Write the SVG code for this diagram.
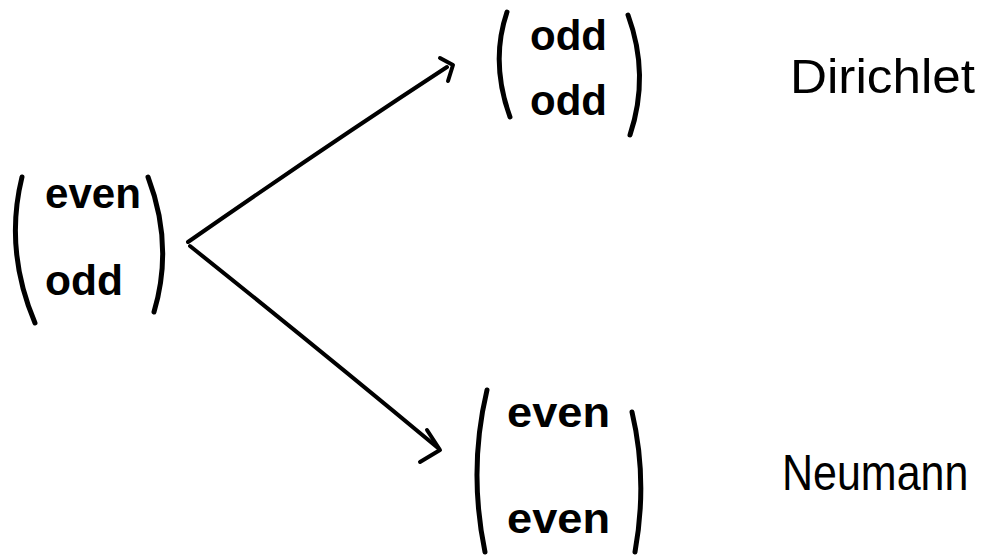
<svg xmlns="http://www.w3.org/2000/svg" width="986" height="555" viewBox="0 0 986 555">
<style>
.p{fill:none;stroke:#000;stroke-width:5;stroke-linecap:round;stroke-linejoin:round}
.c{fill:none;stroke:#000;stroke-width:4;stroke-linecap:round;stroke-linejoin:round}
.t{font-family:"Liberation Sans",Arial,sans-serif;font-size:42px;font-weight:bold;fill:#000}
.l{font-family:"Liberation Sans",Arial,sans-serif;font-size:48px;fill:#000}
</style>
<rect width="986" height="555" fill="#fff"/>
<g id="connectors">
<path class="c" d="M188,242 Q320,150 447,67"/>
<path class="c" d="M440,58 L453,65 L448,81"/>
<path class="c" d="M190,246 Q320,350 438,448"/>
<path class="c" d="M427,430 L440,450 L420,462"/>
</g>
<g id="start">
<path class="p" d="M22,177 Q4,250 35,323"/>
<path class="p" d="M148,177 Q174,245 154,312"/>
<text class="t" x="45" y="208" textLength="96" lengthAdjust="spacingAndGlyphs">even</text>
<text class="t" x="45" y="295" textLength="78" lengthAdjust="spacingAndGlyphs">odd</text>
</g>
<g id="dirichlet-node">
<path class="p" d="M507,12 Q490,62 510,117"/>
<path class="p" d="M628,15 Q650,75 630,135"/>
<text class="t" x="530" y="50" textLength="77" lengthAdjust="spacingAndGlyphs">odd</text>
<text class="t" x="530" y="115" textLength="77" lengthAdjust="spacingAndGlyphs">odd</text>
</g>
<g id="neumann-node">
<path class="p" d="M487,390 Q468,470 485,552"/>
<path class="p" d="M632,412 Q648,480 635,552"/>
<text class="t" x="507" y="427" textLength="103" lengthAdjust="spacingAndGlyphs">even</text>
<text class="t" x="507" y="533" textLength="103" lengthAdjust="spacingAndGlyphs">even</text>
</g>
<g id="labels">
<text class="l" x="790" y="93" textLength="185" lengthAdjust="spacingAndGlyphs">Dirichlet</text>
<text class="l" style="font-size:43px" transform="translate(782,490) scale(1,1.15)" x="0" y="0">Neumann</text>
</g>
</svg>
